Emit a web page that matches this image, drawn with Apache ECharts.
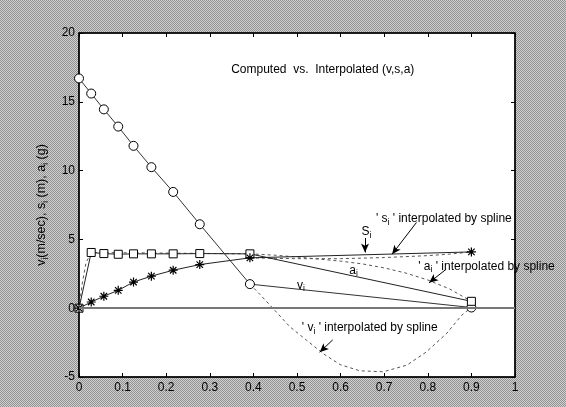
<!DOCTYPE html>
<html><head><meta charset="utf-8">
<script src="https://cdn.jsdelivr.net/npm/echarts@6/dist/echarts.min.js"></script>
<style>html,body{margin:0;padding:0;}#c{width:566px;height:407px;}</style>
</head><body><div id="c"></div>
<script>
// ---- data ----
const vX = [0, 0.028, 0.057, 0.090, 0.125, 0.166, 0.216, 0.277, 0.392, 0.900];
const vY = [16.7, 15.6, 14.45, 13.2, 11.8, 10.25, 8.45, 6.1, 1.75, 0.05];
const sX = [0, 0.028, 0.057, 0.090, 0.125, 0.166, 0.216, 0.277, 0.392, 0.900];
const sY = [0, 4.05, 3.97, 3.92, 3.95, 3.95, 3.95, 3.97, 3.95, 0.5];
const aX = [0, 0.028, 0.057, 0.090, 0.125, 0.166, 0.216, 0.277, 0.392, 0.900];
const aY = [0, 0.45, 0.87, 1.3, 1.9, 2.33, 2.76, 3.17, 3.66, 4.09];
// spline (interpolated) curves
const vSplX = [0.392, 0.415, 0.446, 0.484, 0.522, 0.560, 0.599, 0.644, 0.698, 0.752, 0.797, 0.843, 0.878, 0.900];
const vSplY = [1.75, 1.0, -0.05, -1.36, -2.33, -3.3, -4.1, -4.55, -4.62, -4.14, -3.17, -1.84, -0.5, 0.05];
const sSplX = [0, 0.008, 0.016, 0.028, 0.392, 0.45, 0.5, 0.55, 0.6, 0.65, 0.7, 0.75, 0.8, 0.85, 0.9];
const sSplY = [0, 1.9, 3.3, 4.05, 3.95, 3.85, 3.72, 3.57, 3.42, 3.22, 2.93, 2.55, 2.05, 1.4, 0.5];
const aSplX = [0.392, 0.45, 0.5, 0.6, 0.7, 0.8, 0.85, 0.9];
const aSplY = [3.66, 3.62, 3.6, 3.6, 3.68, 3.82, 3.93, 4.09];
// axes
const xMin = 0, xMax = 1, xStep = 0.1;
const yMin = -5, yMax = 20, yStep = 5;
// texts
const titleText = 'Computed  vs.  Interpolated (v,s,a)';
const yName = 'v{sub|i}(m/sec), s{sub|i} (m), a{sub|i} (g)';
const notes = [
  { t: titleText, at: [0.349, 17.3] },
  { t: "' s{sub|i} ' interpolated by spline", at: [0.681, 6.47] },
  { t: "' a{sub|i} ' interpolated by spline", at: [0.778, 3.05] },
  { t: "' v{sub|i} ' interpolated by spline", at: [0.511, -1.45] },
  { t: 'S{sub|i}', at: [0.648, 5.55] },
  { t: 'a{sub|i}', at: [0.620, 2.75] },
  { t: 'v{sub|i}', at: [0.500, 1.65] }
];
const arrows = [
  [[0.774, 6.23], [0.718, 3.92]],
  [[0.842, 2.83], [0.803, 1.85]],
  [[0.582, -2.3], [0.552, -3.2]],
  [[0.656, 5.1], [0.656, 4.05]]
];

const pair = (xs, ys) => xs.map((x, i) => [x, ys[i]]);
const font = 'Liberation Sans, Arial, sans-serif';
const rich = { sub: { fontSize: 8.5, fontFamily: font, padding: [7, 0, 0, 0], color: '#000' } };

const cv = document.createElement('canvas');
cv.width = 2; cv.height = 2;
const cx = cv.getContext('2d');
cx.fillStyle = '#d0d0d0'; cx.fillRect(0, 0, 2, 2);
cx.fillStyle = '#929292'; cx.fillRect(0, 0, 1, 1); cx.fillRect(1, 1, 1, 1);

const star = 'path://M0,-5L0,5M-5,0L5,0M-3.6,-3.6L3.6,3.6M-3.6,3.6L3.6,-3.6';

const chart = echarts.init(document.getElementById('c'), null, { renderer: 'canvas' });
const axBase = {
  type: 'value', splitLine: { show: false },
  axisLine: { show: true, onZero: false, lineStyle: { color: '#000', width: 1.5 } },
  axisTick: { show: true, inside: true, length: 4, lineStyle: { color: '#000' } }
};
const lbl = { color: '#000', fontSize: 12, fontFamily: font };
chart.setOption({
  backgroundColor: { image: cv, repeat: 'repeat' },
  animation: false,
  grid: { left: 79, right: 51, top: 33, bottom: 30, show: true, backgroundColor: '#fff', borderColor: '#000', borderWidth: 1 },
  xAxis: [
    Object.assign({}, axBase, { min: xMin, max: xMax, interval: xStep, position: 'bottom', axisLabel: Object.assign({ margin: 5 }, lbl) }),
    Object.assign({}, axBase, { min: xMin, max: xMax, interval: xStep, position: 'top', axisLabel: { show: false } })
  ],
  yAxis: [
    Object.assign({}, axBase, { min: yMin, max: yMax, interval: yStep, position: 'left', axisLabel: Object.assign({ margin: 4 }, lbl),
      name: yName, nameLocation: 'middle', nameGap: 29, nameRotate: 90,
      nameTextStyle: { color: '#000', fontSize: 12.5, fontFamily: font, rich: rich } }),
    Object.assign({}, axBase, { min: yMin, max: yMax, interval: yStep, position: 'right', axisLabel: { show: false } })
  ],
  series: [
    { type: 'line', name: 'vSpline', data: pair(vSplX, vSplY), showSymbol: false, symbol: 'none',
      lineStyle: { color: '#555', width: 1, type: [3, 3] }, z: 2 },
    { type: 'line', name: 'sSpline', data: pair(sSplX, sSplY), showSymbol: false, symbol: 'none',
      lineStyle: { color: '#555', width: 1, type: [3, 3] }, z: 2 },
    { type: 'line', name: 'aSpline', data: pair(aSplX, aSplY), showSymbol: false, symbol: 'none',
      lineStyle: { color: '#555', width: 1, type: [3, 3] }, z: 2 },
    { type: 'line', name: 'v', data: pair(vX, vY), symbol: 'circle', symbolSize: 9,
      itemStyle: { color: '#fff', borderColor: '#000', borderWidth: 1 },
      lineStyle: { color: '#333', width: 1 }, z: 3,
      markLine: { silent: true, symbol: ['none', 'none'], label: { show: false },
        lineStyle: { color: '#777', width: 2, type: 'solid' }, data: [{ yAxis: 0 }] } },
    { type: 'line', name: 's', data: pair(sX, sY), symbol: 'rect', symbolSize: 8,
      itemStyle: { color: '#fff', borderColor: '#000', borderWidth: 1 },
      lineStyle: { color: '#222', width: 1 }, z: 3 },
    { type: 'line', name: 'a', data: pair(aX, aY), symbol: star, symbolSize: 9,
      itemStyle: { color: 'none', borderColor: '#000', borderWidth: 1.2 },
      lineStyle: { color: '#222', width: 1 }, z: 3,
      markLine: { silent: true, symbol: ['none', 'arrow'], symbolSize: [6, 9], label: { show: false },
        lineStyle: { color: '#000', width: 1, type: 'solid' },
        data: arrows.map(a => [{ coord: a[0] }, { coord: a[1] }]) } }
  ]
});

const g = notes.map(n => {
  const p = chart.convertToPixel({ xAxisIndex: 0, yAxisIndex: 0 }, n.at);
  return { type: 'text', x: p[0], y: p[1], z: 10,
    style: { text: n.t, fill: '#000', fontSize: 12, fontFamily: font, align: 'left', verticalAlign: 'middle', rich: rich } };
});
chart.setOption({ graphic: g });
</script></body></html>
